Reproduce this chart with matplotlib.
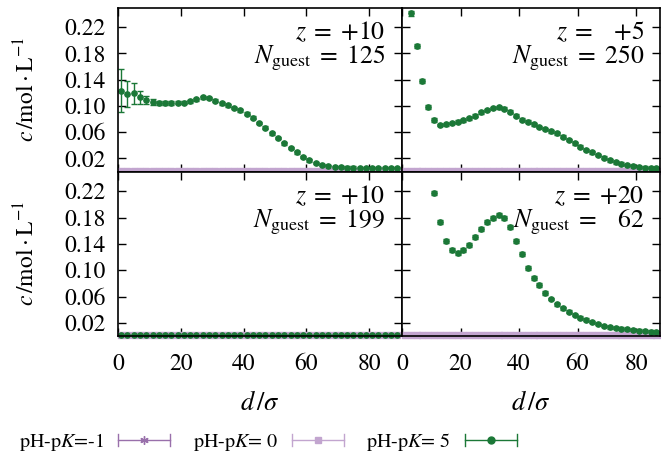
import matplotlib.pyplot as plt
from matplotlib.legend_handler import HandlerBase
from matplotlib.lines import Line2D

plt.rcParams['font.family'] = 'STIXGeneral'
plt.rcParams['mathtext.fontset'] = 'stix'

# distance grid (bin centres) used by all curves
d_all = [1, 3, 5, 7, 9, 11, 13, 15, 17, 19, 21, 23, 25, 27, 29, 31, 33, 35, 37, 39, 41, 43, 45,
         47, 49, 51, 53, 55, 57, 59, 61, 63, 65, 67, 69, 71, 73, 75, 77, 79, 81, 83, 85, 87, 89]

# pH-pK = -1 and 0: nothing adsorbed, c ~ 0 everywhere
c_m1 = [0.001, 0.001, 0.001, 0.001, 0.001, 0.001, 0.001, 0.001, 0.001, 0.001, 0.001, 0.001,
        0.001, 0.001, 0.001, 0.001, 0.001, 0.001, 0.001, 0.001, 0.001, 0.001, 0.001, 0.001,
        0.001, 0.001, 0.001, 0.001, 0.001, 0.001, 0.001, 0.001, 0.001, 0.001, 0.001, 0.001,
        0.001, 0.001, 0.001, 0.001, 0.001, 0.001, 0.001, 0.001, 0.001]
c_0 = [0.0015, 0.0015, 0.0015, 0.0015, 0.0015, 0.0015, 0.0015, 0.0015, 0.0015, 0.0015, 0.0015,
       0.0015, 0.0015, 0.0015, 0.0015, 0.0015, 0.0015, 0.0015, 0.0015, 0.0015, 0.0015, 0.0015,
       0.0015, 0.0015, 0.0015, 0.0015, 0.0015, 0.0015, 0.0015, 0.0015, 0.0015, 0.0015, 0.0015,
       0.0015, 0.0015, 0.0015, 0.0015, 0.0015, 0.0015, 0.0015, 0.0015, 0.0015, 0.0015, 0.0015, 0.0015]

# pH-pK = 5, z=+10, N=125 (top left)
c_tl = [0.123, 0.118, 0.119, 0.113, 0.109, 0.106, 0.105, 0.105, 0.105, 0.105, 0.105, 0.107,
        0.110, 0.113, 0.112, 0.108, 0.104, 0.101, 0.097, 0.093, 0.088, 0.082, 0.074, 0.067,
        0.058, 0.051, 0.043, 0.036, 0.029, 0.022, 0.017, 0.013, 0.010, 0.008, 0.007, 0.0065,
        0.006, 0.006, 0.0055, 0.005, 0.005, 0.005, 0.005, 0.005, 0.005]
e_tl = [0.033, 0.020, 0.016, 0.010, 0.006, 0.004, 0.003, 0.003, 0.003, 0.002, 0.002, 0.002,
        0.002, 0.002, 0.002, 0.002, 0.002, 0.002, 0.002, 0.002, 0.002, 0.002, 0.002, 0.002,
        0.002, 0.002, 0.002, 0.002, 0.002, 0.002, 0.002, 0.002, 0.002, 0.002, 0.002, 0.002,
        0.002, 0.002, 0.002, 0.002, 0.002, 0.002, 0.002, 0.002, 0.002]

# pH-pK = 5, z=+5, N=250 (top right)
d_tr = [3, 5, 7, 9, 11, 13, 15, 17, 19, 21, 23, 25, 27, 29, 31, 33, 35, 37, 39, 41, 43, 45,
        47, 49, 51, 53, 55, 57, 59, 61, 63, 65, 67, 69, 71, 73, 75, 77, 79, 81, 83, 85, 87]
c_tr = [0.241, 0.192, 0.138, 0.099, 0.079, 0.071, 0.072, 0.074, 0.076, 0.078, 0.081, 0.085,
        0.090, 0.094, 0.097, 0.098, 0.096, 0.091, 0.085, 0.079, 0.076, 0.072, 0.068, 0.065,
        0.061, 0.058, 0.053, 0.048, 0.043, 0.038, 0.033, 0.029, 0.025, 0.021, 0.017, 0.014,
        0.012, 0.010, 0.008, 0.007, 0.006, 0.0055, 0.005]
e_tr = [0.004, 0.003, 0.003, 0.003, 0.003, 0.002, 0.002, 0.002, 0.002, 0.002, 0.002, 0.002,
        0.002, 0.002, 0.002, 0.002, 0.002, 0.002, 0.002, 0.002, 0.002, 0.002, 0.002, 0.002,
        0.002, 0.002, 0.002, 0.002, 0.002, 0.002, 0.002, 0.002, 0.002, 0.002, 0.002, 0.002,
        0.002, 0.002, 0.002, 0.002, 0.002, 0.002, 0.002]

# pH-pK = 5, z=+10, N=199 (bottom left): stays at zero
c_bl = [0.001, 0.001, 0.001, 0.001, 0.001, 0.001, 0.001, 0.001, 0.001, 0.001, 0.001, 0.001,
        0.001, 0.001, 0.001, 0.001, 0.001, 0.001, 0.001, 0.001, 0.001, 0.001, 0.001, 0.001,
        0.001, 0.001, 0.001, 0.001, 0.001, 0.001, 0.001, 0.001, 0.001, 0.001, 0.001, 0.001,
        0.001, 0.001, 0.001, 0.001, 0.001, 0.001, 0.001, 0.001, 0.001]

# pH-pK = 5, z=+20, N=62 (bottom right)
d_br = [11, 13, 15, 17, 19, 21, 23, 25, 27, 29, 31, 33, 35, 37, 39, 41, 43, 45, 47, 49, 51,
        53, 55, 57, 59, 61, 63, 65, 67, 69, 71, 73, 75, 77, 79, 81, 83, 85, 87]
c_br = [0.218, 0.173, 0.144, 0.131, 0.126, 0.130, 0.139, 0.151, 0.162, 0.173, 0.180, 0.184,
        0.179, 0.165, 0.144, 0.124, 0.104, 0.088, 0.077, 0.066, 0.056, 0.048, 0.042, 0.037,
        0.032, 0.028, 0.025, 0.021, 0.018, 0.015, 0.013, 0.012, 0.011, 0.010, 0.009, 0.008,
        0.007, 0.0065, 0.006]
e_br = [0.003, 0.003, 0.003, 0.003, 0.003, 0.003, 0.003, 0.003, 0.003, 0.003, 0.003, 0.003,
        0.003, 0.003, 0.003, 0.003, 0.003, 0.003, 0.003, 0.003, 0.002, 0.002, 0.002, 0.002,
        0.002, 0.002, 0.002, 0.002, 0.002, 0.002, 0.002, 0.002, 0.002, 0.002, 0.002, 0.002,
        0.002, 0.002, 0.002]

labels_z = [r"$z\;=\;{+}10$", r"$z\;=\;\ \ {+}5$", r"$z\;=\;{+}10$", r"$z\;=\;{+}20$"]
labels_n = [r"$N_{\rm guest}\;=\;125$", r"$N_{\rm guest}\;=\;250$",
            r"$N_{\rm guest}\;=\;199$", r"$N_{\rm guest}\;=\;\ \ 62$"]
legend_labels = [r"pH-p$K$=-1", r"pH-p$K$= 0", r"pH-p$K$= 5"]

col_m1 = '#9970ab'
col_0 = '#c2a5cf'
col_5 = '#1b7837'
star = (6, 2, 0)


def noclip(cont):
    for part in cont.lines:
        if part is None:
            continue
        if isinstance(part, tuple):
            for p in part:
                p.set_clip_on(False)
        else:
            part.set_clip_on(False)


def draw(ax, d5, c5, e5):
    cont = ax.errorbar(d_all, c_m1, yerr=0.0008, color=col_m1, marker=star, ms=5, ls='none',
                       elinewidth=1, capsize=2)
    noclip(cont)
    cont = ax.errorbar(d_all, c_0, yerr=0.0008, color=col_0, marker='s', ms=4.5, ls='none',
                       elinewidth=1.2, capsize=2.5)
    noclip(cont)
    cont = ax.errorbar(d5, c5, yerr=e5, color=col_5, marker='o', ms=3.8, ls='none',
                       elinewidth=1, capsize=2.5)
    noclip(cont)


fig = plt.figure(figsize=(6.61, 4.59), dpi=100)
W, H = 661.0, 459.0
ax_tl = fig.add_axes([118 / W, 1 - 171.5 / H, 284 / W, 164 / H])
ax_tr = fig.add_axes([402 / W, 1 - 171.5 / H, 258 / W, 164 / H])
ax_bl = fig.add_axes([118 / W, 1 - 336 / H, 284 / W, 164.5 / H])
ax_br = fig.add_axes([402 / W, 1 - 336 / H, 258 / W, 164.5 / H])

draw(ax_tl, d_all, c_tl, e_tl)
draw(ax_tr, d_tr, c_tr, e_tr)
draw(ax_bl, d_all, c_bl, 0.0005)
draw(ax_br, d_br, c_br, e_br)

axes = [ax_tl, ax_tr, ax_bl, ax_br]
for i, ax in enumerate(axes):
    ax.set_ylim(0, 0.25)
    ax.set_xlim(0, 90.5 if i % 2 == 0 else 88.2)
    ax.set_xticks([0, 20, 40, 60, 80])
    ax.set_yticks([0.02, 0.06, 0.10, 0.14, 0.18, 0.22])
    ax.set_yticklabels(['0.02', '0.06', '0.10', '0.14', '0.18', '0.22'])
    ax.tick_params(direction='in', top=True, right=True, length=6, width=1, labelsize=17)
    ax.tick_params(axis='x', pad=13)
    ax.tick_params(axis='y', pad=9)
    for s in ax.spines.values():
        s.set_linewidth(1.2)
    ax.text(0.94, 0.845, labels_z[i], transform=ax.transAxes, ha='right', va='center', fontsize=18.5)
    ax.text(0.94, 0.69, labels_n[i], transform=ax.transAxes, ha='right', va='center', fontsize=18.5)
    if i < 2:
        ax.tick_params(labelbottom=False)
    else:
        ax.set_xlabel(r"$d\,/\sigma$", fontsize=19, labelpad=12)
    if i % 2 == 1:
        ax.tick_params(labelleft=False)
    else:
        ax.set_ylabel(r"$c\,/\mathrm{mol}\cdot\mathrm{L}^{-1}$", fontsize=17, labelpad=18)


class Key:
    def __init__(self, color, marker, ms):
        self.color = color
        self.marker = marker
        self.ms = ms


class KeyHandler(HandlerBase):
    def create_artists(self, legend, h, xdescent, ydescent, width, height, fontsize, trans):
        y = height / 2 - ydescent
        x0 = -xdescent
        x1 = -xdescent + width
        line = Line2D([x0, x1], [y, y], color=h.color, lw=1)
        cap0 = Line2D([x0, x0], [y - 0.4 * height, y + 0.4 * height], color=h.color, lw=1)
        cap1 = Line2D([x1, x1], [y - 0.4 * height, y + 0.4 * height], color=h.color, lw=1)
        mk = Line2D([(x0 + x1) / 2], [y], marker=h.marker, ms=h.ms, color=h.color, ls='none')
        arts = [line, cap0, cap1, mk]
        for a in arts:
            a.set_transform(trans)
        return arts


keys = [Key(col_m1, star, 6), Key(col_0, 's', 5), Key(col_5, 'o', 5)]
fig.legend(keys, legend_labels, handler_map={Key: KeyHandler()}, loc='center',
           bbox_to_anchor=(268 / W, 1 - 442 / H), ncol=3, frameon=False, markerfirst=False,
           fontsize=14.5, handlelength=2.6, handletextpad=0.7, columnspacing=1.1)

fig.savefig('out.png', dpi=100)
